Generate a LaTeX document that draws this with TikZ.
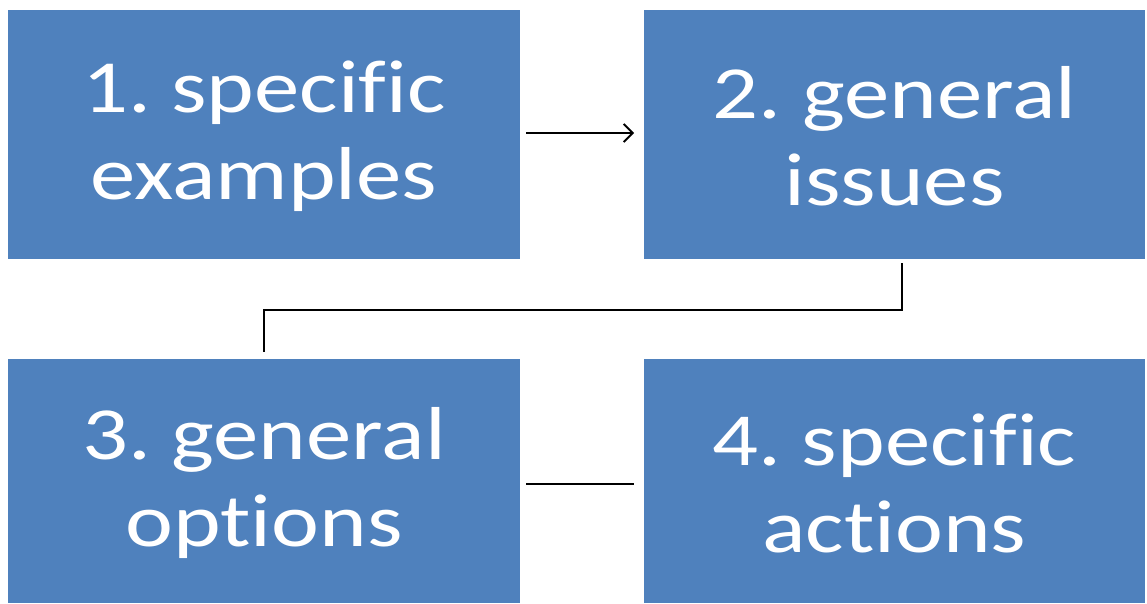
\documentclass[tikz,border=0pt]{standalone}
\usepackage{fontspec}
\usetikzlibrary{arrows.meta,calc}
\newfontfamily\boxfont[FakeStretch=1.21,Ligatures={NoCommon}]{Carlito}
\definecolor{boxblue}{HTML}{4F81BD}
\tikzset{
  box/.style={fill=boxblue, draw=none, inner sep=0pt, outer sep=0pt, anchor=north west,
    text=white, align=center, font=\frenchspacing\boxfont\fontsize{75pt}{87pt}\selectfont},
  conn/.style={draw=black, line width=1.9pt},
}
\begin{document}
\begin{tikzpicture}[x=1pt,y=-1pt]
\useasboundingbox (0,0) rectangle (1147,603);
\node[box, minimum width=512pt, minimum height=249pt] (b1) at (8,10) {};
\node[box, minimum width=501pt, minimum height=249pt] (b2) at (644,10) {};
\node[box, minimum width=512pt, minimum height=244pt] (b3) at (8,359) {};
\node[box, minimum width=501pt, minimum height=244pt] (b4) at (644,359) {};
\node[box, anchor=center] (t1) at ([yshift=-2pt]b1.center) {1. specific\\examples};
\node[box, anchor=center] (t2) at ([yshift=-2pt]b2.center) {2. general\\issues};
\node[box, anchor=center] (t3) at ([yshift=-2pt]b3.center) {3. general\\options};
\node[box, anchor=center] (t4) at ([yshift=-2pt]b4.center) {4. specific\\actions};
\draw[conn, shorten <=6pt, shorten >=10pt, -{Straight Barb[length=9pt,width=18pt,line width=1.9pt]}]
  ([yshift=1.5pt]b1.east) -- ([yshift=1.5pt]b2.west);
\draw[conn, shorten <=4pt, shorten >=7pt]
  ([xshift=7.5pt]b2.south) -- ++(0,-51pt) -| (b3.north);
\draw[conn, shorten <=6pt, shorten >=10pt]
  ([yshift=-3pt]b3.east) -- ([yshift=-3pt]b4.west);
\end{tikzpicture}
\end{document}
